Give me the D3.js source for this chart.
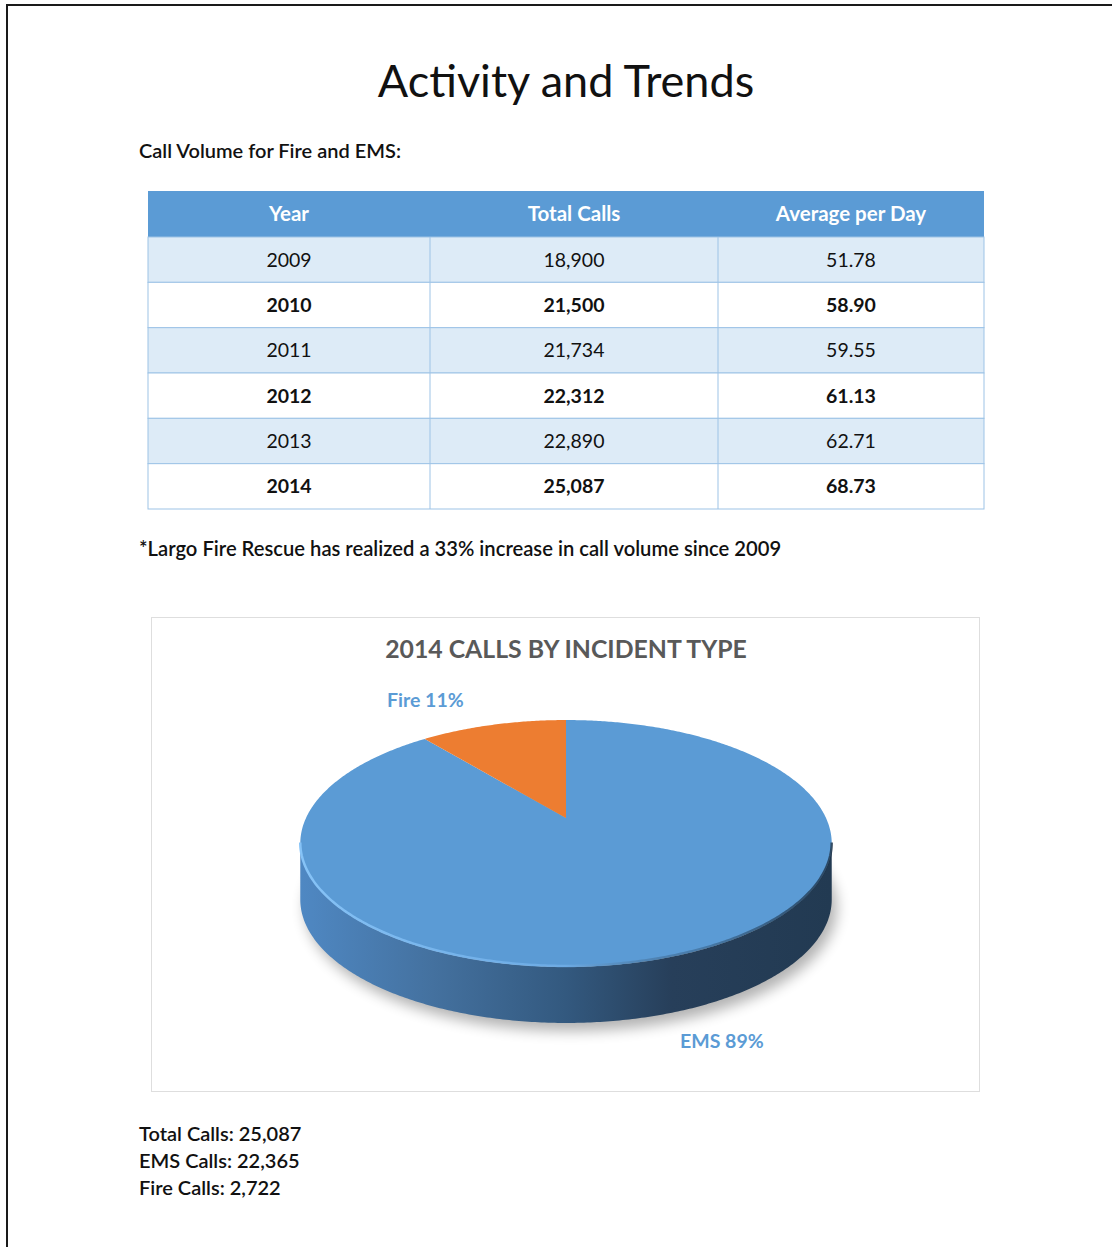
<!DOCTYPE html>
<html>
<head>
<meta charset="utf-8">
<script src="https://cdn.jsdelivr.net/npm/d3@7"></script>
<style>
  html, body { margin: 0; padding: 0; background: #fff; }
  svg { display: block; font-family: Lato, "Open Sans", sans-serif; }
</style>
</head>
<body>
<svg id="page" width="1112" height="1247"></svg>
<script>
// table data
var headers = ['Year', 'Total Calls', 'Average per Day'];
var years = ['2009', '2010', '2011', '2012', '2013', '2014'];
var totalCalls = [18900, 21500, 21734, 22312, 22890, 25087];
var avgPerDay = [51.78, 58.90, 59.55, 61.13, 62.71, 68.73];

// pie data (2014)
var incidentTypes = ['EMS', 'Fire'];
var incidentCalls = [22365, 2722];
var incidentPct = [89, 11];

var pageTitle = 'Activity and Trends';
var tableCaption = 'Call Volume for Fire and EMS:';
var footnote = '*Largo Fire Rescue has realized a 33% increase in call volume since 2009';
var chartTitle = '2014 CALLS BY INCIDENT TYPE';

var svg = d3.select('#page');
var fmt = d3.format(',');
var fmt2 = d3.format('.2f');

// page border (top + left edge of the scanned page)
svg.append('path')
	.attr('d', 'M7,1247 V5 H1112')
	.attr('fill', 'none')
	.attr('stroke', '#1a1a1a')
	.attr('stroke-width', 2);

svg.append('text')
	.attr('x', 566).attr('y', 97)
	.attr('text-anchor', 'middle')
	.attr('font-size', 45)
	.attr('fill', '#111')
	.text(pageTitle);

svg.append('text')
	.attr('x', 139).attr('y', 158)
	.attr('font-size', 20)
	.attr('font-weight', 600)
	.attr('fill', '#111')
	.text(tableCaption);

/*
 * Table
 */
var colEdges = [148, 430, 718, 984];
var headTop = 191, headH = 46;
var y = d3.scaleBand()
	.domain(years)
	.range([headTop + headH, 509]);

var table = svg.append('g').attr('class', 'table');

table.append('rect')
	.attr('x', colEdges[0]).attr('y', headTop)
	.attr('width', colEdges[3] - colEdges[0]).attr('height', headH)
	.attr('fill', '#5b9bd5');

table.selectAll('text.head')
	.data(headers)
	.enter().append('text')
	.attr('class', 'head')
	.attr('x', function(d, i) { return (colEdges[i] + colEdges[i + 1]) / 2; })
	.attr('y', headTop + headH / 2 + 7)
	.attr('text-anchor', 'middle')
	.attr('font-size', 20.5)
	.attr('font-weight', 700)
	.attr('fill', '#fff')
	.text(function(d) { return d; });

var rows = table.selectAll('g.row')
	.data(years.map(function(yr, i) {
		return { year: yr, cells: [yr, fmt(totalCalls[i]), fmt2(avgPerDay[i])], i: i };
	}))
	.enter().append('g')
	.attr('class', 'row')
	.attr('transform', function(d) { return 'translate(0,' + y(d.year) + ')'; });

rows.append('rect')
	.attr('x', colEdges[0])
	.attr('width', colEdges[3] - colEdges[0])
	.attr('height', y.bandwidth())
	.attr('fill', function(d) { return d.i % 2 === 0 ? '#ddebf7' : '#fff'; })
	.attr('stroke', '#9dc3e6')
	.attr('stroke-width', 1);

rows.selectAll('line.sep')
	.data([colEdges[1], colEdges[2]])
	.enter().append('line')
	.attr('class', 'sep')
	.attr('x1', function(d) { return d; }).attr('x2', function(d) { return d; })
	.attr('y1', 0).attr('y2', y.bandwidth())
	.attr('stroke', '#9dc3e6');

rows.selectAll('text')
	.data(function(d) { return d.cells.map(function(c) { return { v: c, bold: d.i % 2 === 1 }; }); })
	.enter().append('text')
	.attr('x', function(d, i) { return (colEdges[i] + colEdges[i + 1]) / 2; })
	.attr('y', y.bandwidth() / 2 + 7)
	.attr('text-anchor', 'middle')
	.attr('font-size', 19.5)
	.attr('font-weight', function(d) { return d.bold ? 700 : 400; })
	.attr('fill', '#111')
	.text(function(d) { return d.v; });

svg.append('text')
	.attr('x', 139).attr('y', 556)
	.attr('font-size', 20.2)
	.attr('font-weight', 600)
	.attr('fill', '#111')
	.text(footnote);

/*
 * 3D pie chart
 */
var box = svg.append('g').attr('class', 'chart');
box.append('rect')
	.attr('x', 151.5).attr('y', 617.5)
	.attr('width', 828).attr('height', 474)
	.attr('fill', '#fff')
	.attr('stroke', '#dedede');

box.append('text')
	.attr('x', 566).attr('y', 658)
	.attr('text-anchor', 'middle')
	.attr('font-size', 24.8)
	.attr('font-weight', 700)
	.attr('fill', '#595959')
	.text(chartTitle);

var defs = svg.append('defs');
var shadowBlur = defs.append('filter').attr('id', 'shadow')
	.attr('x', '-20%').attr('y', '-30%').attr('width', '140%').attr('height', '160%');
shadowBlur.append('feGaussianBlur').attr('stdDeviation', 7);

var sideGrad = defs.append('linearGradient').attr('id', 'side')
	.attr('gradientUnits', 'userSpaceOnUse')
	.attr('x1', 300).attr('x2', 831).attr('y1', 0).attr('y2', 0);
[['0%', '#4f88c3'], ['25%', '#44719f'], ['50%', '#33597f'], ['70%', '#273f5a'], ['100%', '#223a52']]
	.forEach(function(s) { sideGrad.append('stop').attr('offset', s[0]).attr('stop-color', s[1]); });

var rimGrad = defs.append('linearGradient').attr('id', 'rim')
	.attr('gradientUnits', 'userSpaceOnUse')
	.attr('x1', 300).attr('x2', 831).attr('y1', 0).attr('y2', 0);
rimGrad.append('stop').attr('offset', '0%').attr('stop-color', '#86c3f7').attr('stop-opacity', 1);
rimGrad.append('stop').attr('offset', '50%').attr('stop-color', '#78b5ee').attr('stop-opacity', 0.6);
rimGrad.append('stop').attr('offset', '75%').attr('stop-color', '#1d3349').attr('stop-opacity', 0.3);
rimGrad.append('stop').attr('offset', '100%').attr('stop-color', '#1d3349').attr('stop-opacity', 0.8);

// perspective view of the disc: u to the right, v toward the viewer
var cx = 566, cy = 818, A = 260, B = 118.2, k = -0.2065, depth = 56;
function project(angle, r) {
	var u = r * Math.sin(angle), v = -r * Math.cos(angle);
	var w = 1 + k * v;
	return [cx + A * u / w, cy + B * v / w];
}
function arcPoints(a0, a1) {
	var n = Math.max(2, Math.ceil(Math.abs(a1 - a0) / 0.01));
	return d3.range(n + 1).map(function(i) { return project(a0 + (a1 - a0) * i / n, 1); });
}
var line = d3.line();

// angles (d3 convention) where the outline is widest: the side wall runs between them
var edge = Math.asin(-k);
var rightA = Math.PI / 2 + edge, leftA = 3 * Math.PI / 2 - edge;

var colors = d3.scaleOrdinal().domain(incidentTypes).range(['#5b9bd5', '#ed7d31']);

var pie = d3.pie().sort(null).value(function(d) { return d.calls; });
var arcs = pie(incidentTypes.map(function(t, i) {
	return { type: t, calls: incidentCalls[i], pct: incidentPct[i] };
}));

// drop shadow under the disc
var front = arcPoints(rightA, leftA);
var shadowPts = arcPoints(0, 2 * Math.PI).map(function(p) { return [p[0] + 5, p[1] + depth + 8]; });
box.append('path')
	.attr('d', line(shadowPts) + 'Z')
	.attr('fill', '#000').attr('opacity', 0.3)
	.attr('filter', 'url(#shadow)');

// side wall
var bottom = front.map(function(p) { return [p[0], p[1] + depth]; }).reverse();
box.append('path')
	.attr('d', line(front.concat(bottom)) + 'Z')
	.attr('fill', 'url(#side)');

// top faces
box.selectAll('path.slice')
	.data(arcs)
	.enter().append('path')
	.attr('class', 'slice')
	.attr('d', function(d) {
		return line([[cx, cy]].concat(arcPoints(d.startAngle, d.endAngle))) + 'Z';
	})
	.attr('fill', function(d) { return colors(d.data.type); });

// bevel highlight along the front edge of the top face
box.append('path')
	.attr('d', line(front.map(function(p) { return [p[0], p[1] - 1]; })))
	.attr('fill', 'none')
	.attr('stroke', 'url(#rim)')
	.attr('stroke-width', 2.5);

// labels
var labelPos = { Fire: [387, 707], EMS: [680, 1048] };
box.selectAll('text.lbl')
	.data(arcs)
	.enter().append('text')
	.attr('class', 'lbl')
	.attr('x', function(d) { return labelPos[d.data.type][0]; })
	.attr('y', function(d) { return labelPos[d.data.type][1]; })
	.attr('font-size', 19.5)
	.attr('font-weight', 700)
	.attr('fill', '#5b9bd5')
	.text(function(d) { return d.data.type + ' ' + d.data.pct + '%'; });

// totals below the chart
var totals = [
	'Total Calls: ' + fmt(d3.sum(incidentCalls)),
	'EMS Calls: ' + fmt(incidentCalls[0]),
	'Fire Calls: ' + fmt(incidentCalls[1])
];
svg.selectAll('text.total')
	.data(totals)
	.enter().append('text')
	.attr('class', 'total')
	.attr('x', 139)
	.attr('y', function(d, i) { return 1141 + i * 27; })
	.attr('font-size', 20)
	.attr('font-weight', 600)
	.attr('fill', '#111')
	.text(function(d) { return d; });
</script>
</body>
</html>
